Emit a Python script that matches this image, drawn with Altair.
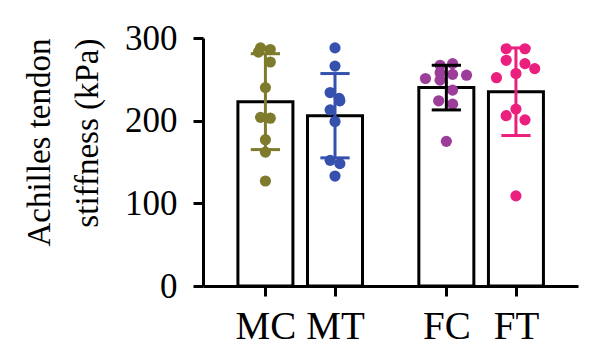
import altair as alt
import pandas as pd

# ---- data ----
groups = ["MC", "MT", "FC", "FT"]
positions = [1.0, 2.0, 3.6, 4.6]          # group slots on the x axis (gap between sexes)
means = [223, 206, 240, 235]
sds = [58, 51, 27, 53]
point_colors = ["#7e7b2c", "#3551ad", "#9b3d99", "#eb1f7e"]
errbar_colors = ["#7e7b2c", "#3551ad", "#000000", "#eb1f7e"]

mc_values = [288, 283, 286, 271, 240, 204, 203, 177, 162, 127]
mc_jitter = [-0.07, -0.10, 0.07, 0.07, 0.0, -0.07, 0.07, 0.0, 0.0, 0.0]
mt_values = [288, 266, 234, 227, 224, 213, 199, 152, 148, 133]
mt_jitter = [0.0, 0.0, -0.07, 0.06, 0.07, -0.07, 0.0, -0.07, 0.07, 0.0]
fc_values = [267, 269, 251, 258, 256, 255, 249, 237, 224, 220, 175]
fc_jitter = [-0.09, 0.09, -0.30, -0.09, 0.09, 0.29, -0.09, 0.09, -0.11, 0.09, 0.0]
ft_values = [287, 287, 273, 269, 263, 257, 252, 214, 206, 201, 109]
ft_jitter = [-0.14, 0.13, -0.14, 0.13, 0.27, 0.0, -0.28, 0.0, -0.14, 0.13, 0.0]

point_values = [mc_values, mt_values, fc_values, ft_values]
point_jitter = [mc_jitter, mt_jitter, fc_jitter, ft_jitter]

# ---- tables ----
summary = pd.DataFrame({
    "group": groups,
    "pos": positions,
    "mean": means,
    "sd": sds,
    "ecolor": errbar_colors,
})
summary["lo"] = summary["mean"] - summary["sd"]
summary["hi"] = summary["mean"] + summary["sd"]
summary["capl"] = summary["pos"] - 0.21
summary["capr"] = summary["pos"] + 0.21

rows = []
for g, p, c, vals, jit in zip(groups, positions, point_colors, point_values, point_jitter):
    for v, j in zip(vals, jit):
        rows.append({"group": g, "xp": p + j, "value": v, "pcolor": c})
points_df = pd.DataFrame(rows)

FONT = "Liberation Serif"
xs = alt.Scale(domain=[0.175, 5.42], nice=False, zero=False)
ys = alt.Scale(domain=[0, 300], nice=False, zero=True)

label_expr = " : ".join(
    f"datum.value == {p} ? '{g}'" for p, g in zip(positions, groups)
) + " : ''"

x_axis = alt.Axis(
    values=positions, labelExpr=label_expr, tickSize=10, tickWidth=3,
    domainWidth=3, labelFontSize=39, labelPadding=11, labelAngle=0,
    labelFlush=False, grid=False, title=None,
)
y_axis = alt.Axis(
    values=[0, 100, 200, 300], tickSize=10, tickWidth=3, domainWidth=3,
    labelFontSize=35, labelPadding=16, grid=False,
    title=["Achilles tendon", "stiffness (kPa)"], titleFontSize=33,
    titleFontWeight="normal", titleLineHeight=48, titleAngle=270,
    titleAlign="right", titleBaseline="bottom", titleX=-147, titleY=0,
)

bars = alt.Chart(summary).mark_bar(
    size=55, fill="white", stroke="black", strokeWidth=3
).encode(
    x=alt.X("pos:Q", scale=xs, axis=x_axis),
    y=alt.Y("mean:Q", scale=ys, axis=y_axis),
)

dots = alt.Chart(points_df).mark_circle(size=125, opacity=1).encode(
    x=alt.X("xp:Q", scale=xs, axis=x_axis),
    y=alt.Y("value:Q", scale=ys, axis=y_axis),
    color=alt.Color("pcolor:N", scale=None),
)

err = alt.Chart(summary).mark_rule(strokeWidth=3).encode(
    x=alt.X("pos:Q", scale=xs, axis=x_axis),
    y=alt.Y("lo:Q", scale=ys, axis=y_axis),
    y2="hi:Q",
    color=alt.Color("ecolor:N", scale=None),
)
cap_hi = alt.Chart(summary).mark_rule(strokeWidth=3).encode(
    x=alt.X("capl:Q", scale=xs, axis=x_axis),
    x2="capr:Q",
    y=alt.Y("hi:Q", scale=ys, axis=y_axis),
    color=alt.Color("ecolor:N", scale=None),
)
cap_lo = alt.Chart(summary).mark_rule(strokeWidth=3).encode(
    x=alt.X("capl:Q", scale=xs, axis=x_axis),
    x2="capr:Q",
    y=alt.Y("lo:Q", scale=ys, axis=y_axis),
    color=alt.Color("ecolor:N", scale=None),
)

chart = alt.layer(bars, dots, err, cap_hi, cap_lo).properties(
    width=375, height=248,
    autosize=alt.AutoSizeParams(type="none"),
    padding={"left": 195, "top": 30, "right": 14, "bottom": 67},
    background="white",
).configure_view(stroke=None).configure_axis(
    labelFont=FONT, titleFont=FONT, labelColor="black", titleColor="black",
    domainColor="black", tickColor="black",
)

chart.save("out.html", embed_options={"renderer": "svg", "actions": False})
